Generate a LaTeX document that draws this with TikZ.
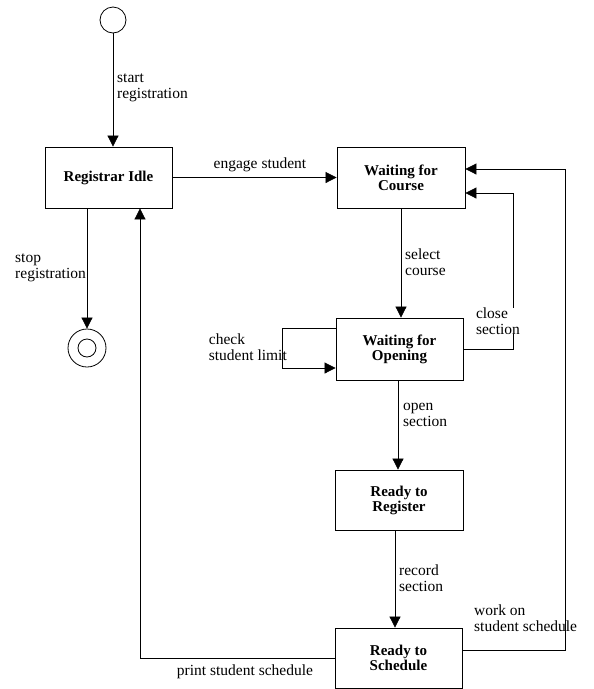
\documentclass[tikz,border=0pt]{standalone}
\usepackage{fontspec}
\setmainfont{Liberation Serif}
\usetikzlibrary{arrows.meta}
\tikzset{
  state/.style={draw, line width=0.8pt, minimum width=127pt, minimum height=61pt, inner sep=0pt, align=center, font=\bfseries\fontsize{15}{15}\selectfont},
  lbl/.style={font=\fontsize{15.5}{16}\selectfont, inner sep=0pt},
  conn/.style={line width=0.7pt},
  arr/.style={conn, -{Triangle[length=11pt,width=11pt]}},
}
\begin{document}
\begin{tikzpicture}[x=1pt,y=-1pt]
\useasboundingbox (0,0) rectangle (594,689);
% states
\node[draw, circle, minimum size=26pt, inner sep=0pt, line width=0.8pt] (init) at (113,20) {};
\node[state] (idle) at (108.5,177.5) {Registrar Idle};
\node[state, minimum width=128pt] (course) at (401,177.5) {Waiting for\\Course};
\node[state, minimum height=62pt] (opening) at (399.5,349) {Waiting for\\Opening};
\node[state, minimum width=128pt, minimum height=60pt] (register) at (399,500) {Ready to\\Register};
\node[state, minimum height=60pt] (schedule) at (398.5,658) {Ready to\\Schedule};
\node[draw, circle, minimum size=38pt, inner sep=0pt, line width=0.8pt] (final) at (87,348) {};
\node[draw, circle, minimum size=18pt, inner sep=0pt, line width=0.8pt] (finalin) at (87,348) {};
% helper coordinates for bends
\coordinate (closex) at (513,0);
\coordinate (workx) at (565,0);
\coordinate (checkx) at (282,0);
% connectors
\draw[arr] (init.south) -- (init.south |- idle.north);
\draw[arr] (idle.east) -- (course.west);
\draw[arr] (course.south) -- (course.south |- opening.north);
\draw[arr] ([xshift=-1.5pt]opening.south) -- ([xshift=-1.5pt]opening.south |- register.north);
\draw[arr] ([xshift=-4pt]register.south) -- ([xshift=-4pt]register.south |- schedule.north);
\draw[arr] ([xshift=-21.5pt]idle.south) -- (final.north);
\draw[arr] (opening.east) -- (opening.east -| closex) |- ([yshift=-15.5pt]course.east);
\draw[arr] ([yshift=8pt]schedule.east) -- ([yshift=8pt]schedule.east -| workx) |- ([yshift=8.5pt]course.east);
\draw[arr] ([yshift=21pt]opening.west) -- ([yshift=21pt]opening.west -| checkx) -- ([yshift=-19pt]opening.west -| checkx) -- ([yshift=-19pt]opening.west);
\draw[arr] (schedule.west) -| ([xshift=31.5pt]idle.south);
% labels
\node[lbl, anchor=west, align=left] (lstart) at (117,88) {start\\registration};
\node[lbl] (lengage) at (260,165) {engage student};
\node[lbl, anchor=west, align=left] (lselect) at (405,262) {select\\course};
\node[lbl, anchor=east, align=left] (lstop) at (86,268) {stop\\registration};
\node[lbl, anchor=east, align=left] (lcheck) at (287,347) {check\\student limit};
\node[lbl, align=left, fill=white] (lclose) at (498,321) {close\\section};
\node[lbl, anchor=west, align=left] (lopen) at (403,415) {open\\section};
\node[lbl, anchor=west, align=left] (lrecord) at (399,578) {record\\section};
\node[lbl, anchor=west, align=left] (lwork) at (474,618) {work on\\student schedule};
\node[lbl] (lprint) at (245,672) {print student schedule};
\end{tikzpicture}
\end{document}
